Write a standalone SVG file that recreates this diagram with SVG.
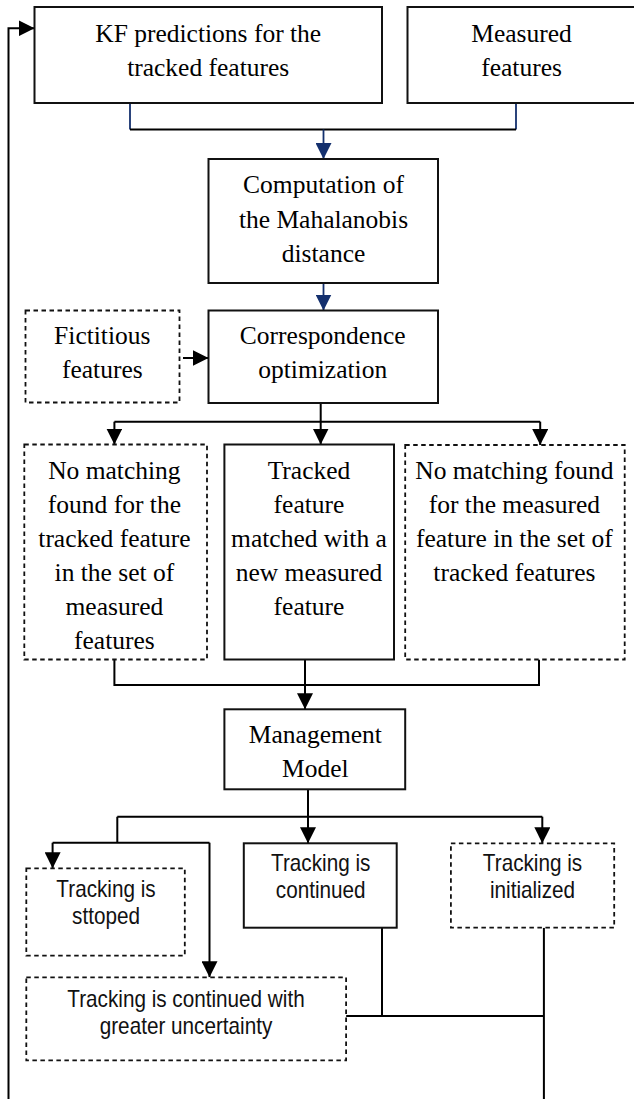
<svg xmlns="http://www.w3.org/2000/svg" width="634" height="1099" viewBox="0 0 634 1099">
<defs>
<style>
.box{fill:#fff;stroke:#111;stroke-width:2}
.dash{fill:#fff;stroke:#111;stroke-width:1.8;stroke-dasharray:4.5 3.5}
.ln{fill:none;stroke:#000;stroke-width:2}
.bl{fill:none;stroke:#14306e;stroke-width:1.8}
.serif{font-family:"Liberation Serif","Times New Roman",serif;font-size:25.5px;fill:#000;text-anchor:middle}
.sans{font-family:"Liberation Sans",Arial,sans-serif;font-size:23px;fill:#111;text-anchor:middle}
</style>
<marker id="ah" markerUnits="userSpaceOnUse" markerWidth="16" markerHeight="16" viewBox="0 0 14 14" refX="14" refY="7" orient="auto">
<path d="M0,0 L14,7 L0,14 Z" fill="#000"/>
</marker>
<marker id="ahb" markerUnits="userSpaceOnUse" markerWidth="16" markerHeight="16" viewBox="0 0 14 14" refX="14" refY="7" orient="auto">
<path d="M0,0 L14,7 L0,14 Z" fill="#14306e"/>
</marker>
</defs>
<rect width="634" height="1099" fill="#fff"/>

<g id="connectors">
<path class="ln" d="M8.5,1099 V28.3 H34.5" marker-end="url(#ah)"/>
<path class="bl" d="M130,103 V129.5 M516,103 V129.5"/>
<path class="ln" d="M130,129.5 H516"/>
<path class="bl" d="M323.5,129.5 V159" marker-end="url(#ahb)"/>
<path class="bl" d="M323.5,283 V310.5" marker-end="url(#ahb)"/>
<path class="ln" d="M183,358 H208.5" marker-end="url(#ah)"/>
<path class="ln" d="M320.7,403 V421.7 M114.4,421.7 H540.2"/>
<path class="ln" d="M114.4,421.7 V444.5" marker-end="url(#ah)"/>
<path class="ln" d="M320.7,421.7 V444.5" marker-end="url(#ah)"/>
<path class="ln" d="M540.2,421.7 V445" marker-end="url(#ah)"/>
<path class="ln" d="M114.4,659.5 V685 H539 V659.5"/>
<path class="ln" d="M305,659.5 V709.3" marker-end="url(#ah)"/>
<path class="ln" d="M308,789.3 V816.7 M117.3,816.7 H542.3"/>
<path class="ln" d="M308,816.7 V843.3" marker-end="url(#ah)"/>
<path class="ln" d="M542.3,816.7 V843.3" marker-end="url(#ah)"/>
<path class="ln" d="M117.3,816.7 V842.7 M52.6,842.7 H209.5"/>
<path class="ln" d="M52.6,842.7 V868.3" marker-end="url(#ah)"/>
<path class="ln" d="M209.5,842.7 V977.3" marker-end="url(#ah)"/>
<path class="ln" d="M382,927.7 V1016 M346.1,1016 H543.9 M543.9,927.7 V1099"/>
</g>

<g id="kf">
<rect class="box" x="34.5" y="7" width="347.5" height="96"/>
<text class="serif" x="208.2" y="41.7">KF predictions for the</text>
<text class="serif" x="208.2" y="75.7">tracked features</text>
</g>
<g id="measured">
<rect class="box" x="407.5" y="7" width="240" height="96"/>
<text class="serif" x="521.6" y="41.7">Measured</text>
<text class="serif" x="521.6" y="75.7">features</text>
</g>
<g id="mahalanobis">
<rect class="box" x="208.5" y="159" width="229.5" height="124"/>
<text class="serif" x="323.5" y="193.3">Computation of</text>
<text class="serif" x="323.5" y="227.7">the Mahalanobis</text>
<text class="serif" x="323.5" y="261.5">distance</text>
</g>
<g id="fictitious">
<rect class="dash" x="25.5" y="310.5" width="154" height="92"/>
<text class="serif" x="102.3" y="344.3">Fictitious</text>
<text class="serif" x="102.3" y="378.3">features</text>
</g>
<g id="correspondence">
<rect class="box" x="208.5" y="310.5" width="229.5" height="92.5"/>
<text class="serif" x="322.7" y="344.3">Correspondence</text>
<text class="serif" x="322.7" y="378.3">optimization</text>
</g>
<g id="nomatch-tracked">
<rect class="dash" x="24.3" y="444.5" width="182.7" height="215"/>
<text class="serif" x="114.4" y="479.3">No matching</text>
<text class="serif" x="114.4" y="513.3">found for the</text>
<text class="serif" x="114.4" y="547.3">tracked feature</text>
<text class="serif" x="114.4" y="581.3">in the set of</text>
<text class="serif" x="114.4" y="615.3">measured</text>
<text class="serif" x="114.4" y="649.3">features</text>
</g>
<g id="matched">
<rect class="box" x="224.4" y="444.5" width="169.6" height="215"/>
<text class="serif" x="309" y="479.3">Tracked</text>
<text class="serif" x="309" y="513.3">feature</text>
<text class="serif" x="309" y="547.3">matched with a</text>
<text class="serif" x="309" y="581.3">new measured</text>
<text class="serif" x="309" y="615.3">feature</text>
</g>
<g id="nomatch-measured">
<rect class="dash" x="405.2" y="445" width="219.5" height="214.5"/>
<text class="serif" x="514.4" y="479.3">No matching found</text>
<text class="serif" x="514.4" y="513.3">for the measured</text>
<text class="serif" x="514.4" y="547.3">feature in the set of</text>
<text class="serif" x="514.4" y="581.3">tracked features</text>
</g>
<g id="management">
<rect class="box" x="224.4" y="709.3" width="180.8" height="80"/>
<text class="serif" x="315.4" y="742.7">Management</text>
<text class="serif" x="315.4" y="777.3">Model</text>
</g>
<g id="stopped">
<rect class="dash" x="26.3" y="868.3" width="158.5" height="87.4"/>
<text class="sans" transform="translate(106,897.3) scale(0.9,1)">Tracking is</text>
<text class="sans" transform="translate(106,924.3) scale(0.9,1)">sttoped</text>
</g>
<g id="continued">
<rect class="box" x="243.8" y="843.3" width="152.9" height="84.4"/>
<text class="sans" transform="translate(320.7,870.7) scale(0.9,1)">Tracking is</text>
<text class="sans" transform="translate(320.7,898.3) scale(0.9,1)">continued</text>
</g>
<g id="initialized">
<rect class="dash" x="450.9" y="843.3" width="163.3" height="84.4"/>
<text class="sans" transform="translate(532.5,870.7) scale(0.9,1)">Tracking is</text>
<text class="sans" transform="translate(532.5,898.3) scale(0.9,1)">initialized</text>
</g>
<g id="uncertainty">
<rect class="dash" x="26.3" y="977.3" width="319.8" height="83"/>
<text class="sans" transform="translate(186,1006.7) scale(0.9,1)">Tracking is continued with</text>
<text class="sans" transform="translate(186,1034.3) scale(0.9,1)">greater uncertainty</text>
</g>
</svg>
